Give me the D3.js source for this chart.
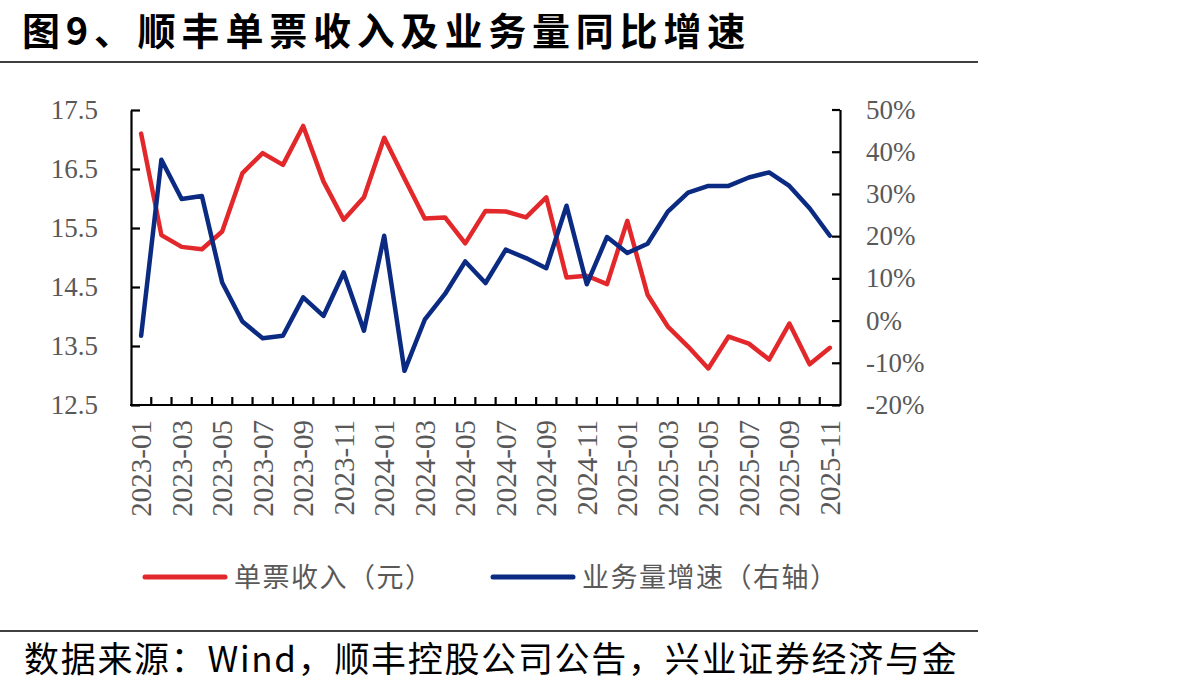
<!DOCTYPE html>
<html>
<head>
<meta charset="utf-8">
<script src="https://cdn.jsdelivr.net/npm/d3@7"></script>
<style>
  body { margin: 0; background: #fff; }
  svg { display: block; }
</style>
</head>
<body>
<svg id="container" width="1192" height="691"></svg>
<script>
let width = 1192,
    height = 691;

// monthly categories 2023-01 .. 2025-11
let months = []
for (let y = 2023; y <= 2025; y++) {
    for (let m = 1; m <= 12; m++) {
        if (y == 2025 && m > 11) break
        months.push(y + "-" + (m < 10 ? "0" + m : m))
    }
}

// 单票收入（元）
let revenue = [17.10, 15.38, 15.18, 15.14, 15.44, 16.43, 16.77, 16.57, 17.23, 16.29, 15.64, 16.02,
    17.03, 16.34, 15.66, 15.68, 15.24, 15.79, 15.78, 15.68, 16.02, 14.66, 14.69, 14.55,
    15.62, 14.37, 13.83, 13.49, 13.12, 13.66, 13.54, 13.27, 13.88, 13.19, 13.47]

// 业务量增速（右轴）, %
let growth = [-3.6, 38.1, 28.8, 29.5, 9.0, -0.2, -4.2, -3.6, 5.5, 1.1, 11.4, -2.4,
    20.1, -11.9, 0.2, 6.3, 14.0, 8.9, 16.8, 14.8, 12.4, 27.2, 8.6, 19.8,
    16.0, 18.2, 25.8, 30.3, 31.9, 31.9, 33.9, 35.1, 31.9, 26.6, 20.1]

let leftTicks = [12.5, 13.5, 14.5, 15.5, 16.5, 17.5]
let rightTicks = [-20, -10, 0, 10, 20, 30, 40, 50]

let red = "#E2282A",
    blue = "#0B2A82",
    grey = "#595959"

let svg = d3.select("#container")

// title
svg.append("text")
    .attr("x", 22)
    .attr("y", 45)
    .text("图9、顺丰单票收入及业务量同比增速")
    .attr("fill", "#000")
    .attr("font-family", "'Noto Sans CJK SC', sans-serif")
    .attr("font-size", "38px")
    .attr("letter-spacing", "5.8px")
    .attr("font-weight", 700)

svg.append("line")
    .attr("x1", 0).attr("x2", 978)
    .attr("y1", 62).attr("y2", 62)
    .attr("stroke", "#000")
    .attr("stroke-width", 1.5)

// scales
let xScale = d3.scaleBand()
    .domain(months)
    .range([131, 840])

let yLeft = d3.scaleLinear()
    .domain([12.5, 17.5])
    .range([405, 110])

let yRight = d3.scaleLinear()
    .domain([-20, 50])
    .range([405, 109.5])

let tickFont = "'Liberation Serif', 'Times New Roman', serif"

// left axis
let yl = svg.append("g")
    .attr("transform", "translate(131,0)")
    .call(d3.axisLeft(yLeft)
        .tickValues(leftTicks)
        .tickFormat(d3.format(".1f"))
        .tickSize(-9)
        .tickSizeOuter(0)
        .tickPadding(33))

// right axis
let yr = svg.append("g")
    .attr("transform", "translate(840,0)")
    .call(d3.axisRight(yRight)
        .tickValues(rightTicks)
        .tickFormat(d => d + "%")
        .tickSize(-8)
        .tickSizeOuter(0)
        .tickPadding(26))

svg.selectAll(".tick text")
    .attr("font-family", tickFont)
    .attr("font-size", "27px")
    .attr("fill", grey)
svg.selectAll(".domain, .tick line")
    .attr("stroke", "#000")
    .attr("stroke-width", 2.2)

// bottom axis: ticks between months
let xAxis = svg.append("g")
xAxis.append("line")
    .attr("x1", 130).attr("x2", 841)
    .attr("y1", 405).attr("y2", 405)
    .attr("stroke", "#000")
    .attr("stroke-width", 2.2)

let edges = months.map(d => xScale(d)).concat([xScale.range()[1]])
xAxis.selectAll(".xtick")
    .data(edges.slice(1, -1))
    .enter()
    .append("line")
    .attr("class", "xtick")
    .attr("x1", d => d).attr("x2", d => d)
    .attr("y1", 405).attr("y2", 397)
    .attr("stroke", "#000")
    .attr("stroke-width", 2.2)

xAxis.selectAll(".xlabel")
    .data(months.filter((d, i) => i % 2 == 0))
    .enter()
    .append("text")
    .attr("class", "xlabel")
    .attr("transform", d => "translate(" + (xScale(d) + xScale.bandwidth() / 2 + 10) + ",420) rotate(-90)")
    .attr("text-anchor", "end")
    .attr("font-family", tickFont)
    .attr("font-size", "29px")
    .attr("fill", grey)
    .text(d => d)

// lines
let revLine = d3.line()
    .x((d, i) => xScale(months[i]) + xScale.bandwidth() / 2)
    .y(d => yLeft(d))

let growthLine = d3.line()
    .x((d, i) => xScale(months[i]) + xScale.bandwidth() / 2)
    .y(d => yRight(d))

svg.append("path")
    .datum(revenue)
    .attr("d", revLine)
    .attr("fill", "none")
    .attr("stroke", red)
    .attr("stroke-width", 4.5)
    .attr("stroke-linejoin", "round")
    .attr("stroke-linecap", "round")

svg.append("path")
    .datum(growth)
    .attr("d", growthLine)
    .attr("fill", "none")
    .attr("stroke", blue)
    .attr("stroke-width", 4.5)
    .attr("stroke-linejoin", "round")
    .attr("stroke-linecap", "round")

// legend
let legend = [
    { name: "单票收入（元）", color: red, x: 145 },
    { name: "业务量增速（右轴）", color: blue, x: 493 }
]
let lg = svg.append("g")
lg.selectAll("line")
    .data(legend)
    .enter()
    .append("line")
    .attr("x1", d => d.x).attr("x2", d => d.x + 80)
    .attr("y1", 577).attr("y2", 577)
    .attr("stroke", d => d.color)
    .attr("stroke-width", 5)
    .attr("stroke-linecap", "round")
lg.selectAll("text")
    .data(legend)
    .enter()
    .append("text")
    .attr("x", d => d.x + 89)
    .attr("y", 587)
    .attr("font-family", "'Noto Sans CJK SC', sans-serif")
    .attr("font-size", "27px")
    .attr("letter-spacing", "1.5px")
    .attr("fill", grey)
    .text(d => d.name)

// source
svg.append("line")
    .attr("x1", 0).attr("x2", 978)
    .attr("y1", 631).attr("y2", 631)
    .attr("stroke", "#000")
    .attr("stroke-width", 1.5)

svg.append("text")
    .attr("x", 24)
    .attr("y", 672)
    .attr("font-family", "'Noto Sans CJK SC', sans-serif")
    .attr("font-size", "35px")
    .attr("letter-spacing", "1.7px")
    .attr("fill", "#000")
    .text("数据来源：Wind，顺丰控股公司公告，兴业证券经济与金")
</script>
</body>
</html>
